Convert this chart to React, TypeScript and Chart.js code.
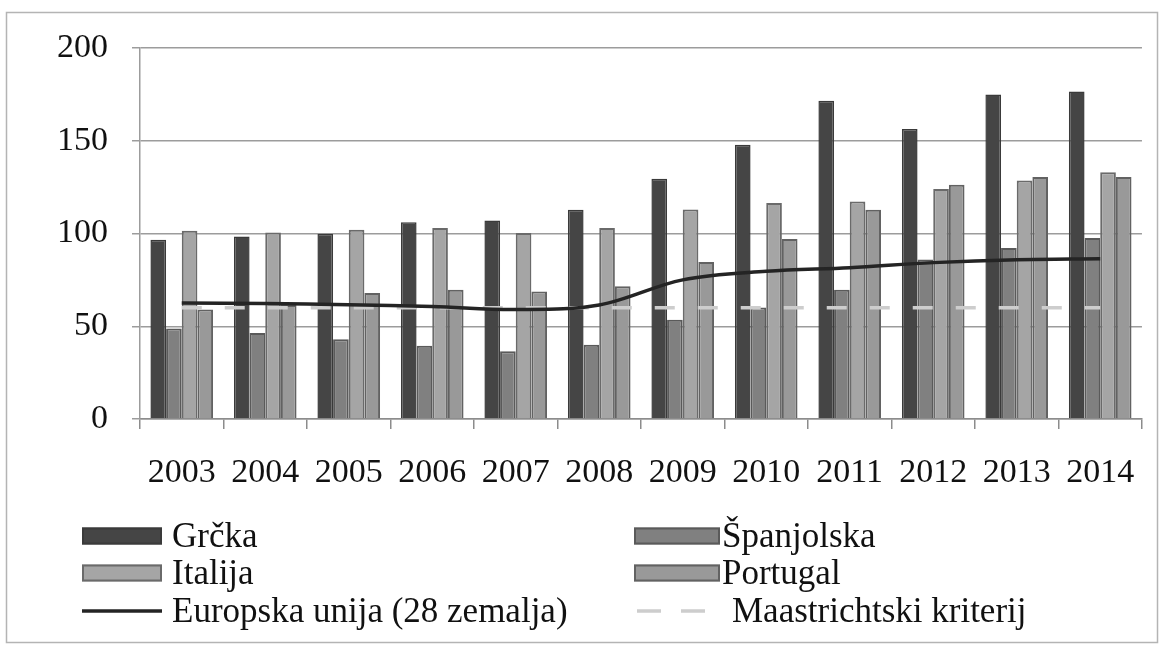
import React, { useEffect, useRef } from "react";
import { Chart, registerables } from "chart.js";

Chart.register(...registerables);

const years = ["2003", "2004", "2005", "2006", "2007", "2008", "2009", "2010", "2011", "2012", "2013", "2014"];
const grcka = [96.6, 98.4, 99.9, 106.0, 107.0, 112.8, 129.5, 147.9, 171.6, 156.3, 174.9, 176.6];
const spanjolska = [48.8, 46.3, 43.0, 39.5, 36.5, 40.0, 53.5, 60.1, 69.7, 86.0, 92.2, 97.6];
const italija = [101.5, 100.5, 102.0, 103.0, 100.3, 103.0, 112.9, 116.5, 117.3, 124.0, 128.6, 133.0];
const portugal = [59.0, 61.5, 67.9, 69.7, 68.8, 71.5, 84.6, 97.0, 112.8, 126.3, 130.4, 130.4];
const eu28 = [62.5, 62.2, 61.6, 60.7, 59.0, 61.5, 75.0, 79.6, 81.6, 84.3, 85.9, 86.4];
const maastricht = [60, 60, 60, 60, 60, 60, 60, 60, 60, 60, 60, 60];
const yMin = 0;
const yMax = 200;
const yStep = 50;

const FONT = '"Liberation Serif", "Times New Roman", serif';
const TEXT = "#111111";

const framePlugin = {
  id: "frame",
  beforeDraw(chart: any) {
    const ctx = chart.ctx;
    ctx.save();
    ctx.fillStyle = "#ffffff";
    ctx.fillRect(0, 0, chart.width, chart.height);
    ctx.strokeStyle = "#b4b4b4";
    ctx.lineWidth = 1.5;
    ctx.strokeRect(6.5, 12.5, 1151, 630);
    ctx.restore();
  },
};

const legendPlugin = {
  id: "customLegend",
  afterDraw(chart: any) {
    const ctx = chart.ctx;
    const ds = chart.data.datasets;
    const cols = [
      { sx: 82, sw: 80, tx: 172 },
      { sx: 634, sw: 86, tx: 722 },
    ];
    const rows = [536, 573, 611];
    const items = [
      { d: ds[0], c: 0, r: 0 },
      { d: ds[1], c: 1, r: 0 },
      { d: ds[2], c: 0, r: 1 },
      { d: ds[3], c: 1, r: 1 },
      { d: ds[4], c: 0, r: 2 },
      { d: ds[5], c: 1, r: 2 },
    ];
    ctx.save();
    ctx.font = `35px ${FONT}`;
    ctx.textBaseline = "alphabetic";
    ctx.textAlign = "left";
    items.forEach((it) => {
      const col = cols[it.c];
      const cy = rows[it.r];
      const d = it.d;
      const dashed = d.type === "line" && d.borderDash && d.borderDash.length;
      if (d.type === "line") {
        ctx.strokeStyle = d.borderColor;
        ctx.lineWidth = 3.5;
        ctx.beginPath();
        if (dashed) {
          ctx.moveTo(col.sx + 3, cy);
          ctx.lineTo(col.sx + 27, cy);
          ctx.moveTo(col.sx + 47, cy);
          ctx.lineTo(col.sx + 71, cy);
        } else {
          ctx.moveTo(col.sx, cy);
          ctx.lineTo(col.sx + col.sw, cy);
        }
        ctx.stroke();
      } else {
        const h = 17;
        ctx.fillStyle = d.backgroundColor;
        ctx.fillRect(col.sx, cy - h / 2, col.sw, h);
        ctx.strokeStyle = d.borderColor;
        ctx.lineWidth = 2;
        ctx.strokeRect(col.sx + 1, cy - h / 2 + 1, col.sw - 2, h - 2);
      }
      ctx.fillStyle = TEXT;
      ctx.fillText(d.label, dashed ? col.tx + 10 : col.tx, cy + 11);
    });
    ctx.restore();
  },
};

export default function App() {
  const ref = useRef<HTMLCanvasElement | null>(null);

  useEffect(() => {
    if (!ref.current) return;
    const chart = new Chart(ref.current, {
      type: "bar",
      data: {
        labels: years,
        datasets: [
          {
            type: "bar",
            label: "Grčka",
            data: grcka,
            backgroundColor: "#454545",
            borderColor: "#3a3a3a",
            borderWidth: 1.5,
            order: 3,
          },
          {
            type: "bar",
            label: "Španjolska",
            data: spanjolska,
            backgroundColor: "#808080",
            borderColor: "#5a5a5a",
            borderWidth: 2,
            order: 3,
          },
          {
            type: "bar",
            label: "Italija",
            data: italija,
            backgroundColor: "#a5a5a5",
            borderColor: "#6a6a6a",
            borderWidth: 2,
            order: 3,
          },
          {
            type: "bar",
            label: "Portugal",
            data: portugal,
            backgroundColor: "#999999",
            borderColor: "#626262",
            borderWidth: 2,
            order: 3,
          },
          {
            type: "line",
            label: "Europska unija (28 zemalja)",
            data: eu28,
            borderColor: "#242424",
            backgroundColor: "#242424",
            borderWidth: 3.5,
            pointRadius: 0,
            tension: 0.35,
            fill: false,
            order: 0,
          },
          {
            type: "line",
            label: "Maastrichtski kriterij",
            data: maastricht,
            borderColor: "#cdcdcd",
            backgroundColor: "#cdcdcd",
            borderWidth: 3.5,
            borderDash: [20, 23],
            pointRadius: 0,
            fill: false,
            order: 1,
          },
        ] as any,
      },
      options: {
        responsive: true,
        maintainAspectRatio: false,
        animation: false,
        layout: { padding: { top: 48, right: 19, left: 0, bottom: 0 } },
        plugins: {
          legend: { display: false },
          tooltip: { enabled: false },
          title: { display: false },
        },
        datasets: {
          bar: { categoryPercentage: 0.75, barPercentage: 1.0 },
        },
        scales: {
          x: {
            grid: {
              display: true,
              drawOnChartArea: false,
              drawTicks: true,
              tickLength: 10,
              color: "#8c8c8c",
              lineWidth: 1.5,
              offset: true,
            },
            border: { display: true, color: "#8c8c8c", width: 1.5 },
            ticks: {
              color: TEXT,
              font: { family: FONT, size: 34, lineHeight: 1 },
              padding: 27,
              maxRotation: 0,
              autoSkip: false,
            },
            afterFit(scale: any) {
              scale.height = 651 - 419;
            },
          },
          y: {
            min: yMin,
            max: yMax,
            grid: {
              color: "#9c9c9c",
              lineWidth: 1.5,
              tickLength: 8,
              drawTicks: true,
            },
            border: { display: true, color: "#9c9c9c", width: 1.5 },
            ticks: {
              stepSize: yStep,
              color: TEXT,
              font: { family: FONT, size: 34, lineHeight: 1 },
              padding: 24,
            },
            afterFit(scale: any) {
              scale.width = 140;
            },
          },
        },
      },
      plugins: [framePlugin, legendPlugin],
    });
    return () => chart.destroy();
  }, []);

  return (
    <div
      style={{
        position: "fixed",
        left: 0,
        top: 0,
        width: 1162,
        height: 651,
        background: "#ffffff",
      }}
    >
      <canvas ref={ref} />
    </div>
  );
}
